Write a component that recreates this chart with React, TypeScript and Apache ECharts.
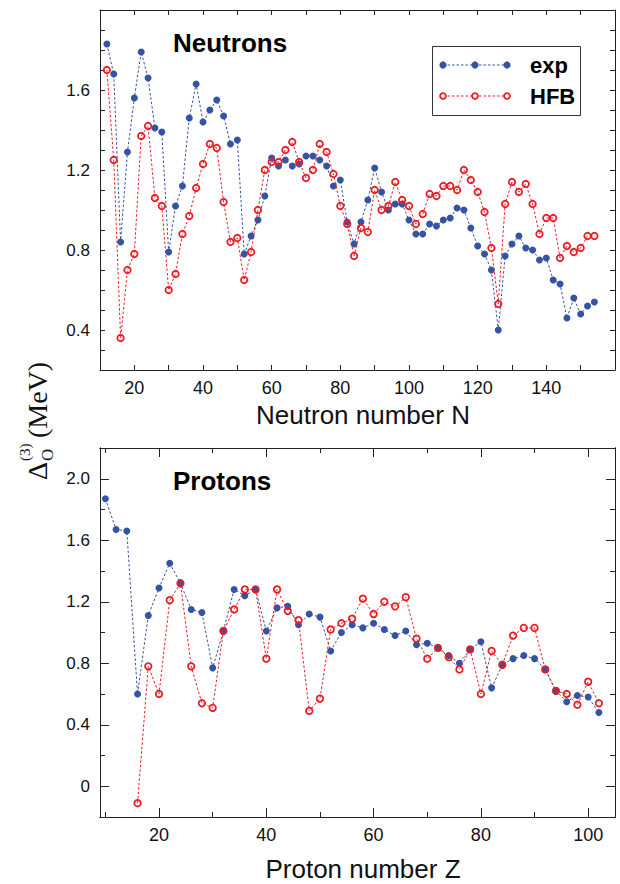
import React, { useEffect, useRef } from 'react';
import * as echarts from 'echarts';

// ---------- Data ----------
const neutronN = [12, 14, 16, 18, 20, 22, 24, 26, 28, 30, 32, 34, 36, 38, 40, 42, 44, 46, 48, 50, 52, 54, 56, 58, 60, 62, 64, 66, 68, 70, 72, 74, 76, 78, 80, 82, 84, 86, 88, 90, 92, 94, 96, 98, 100, 102, 104, 106, 108, 110, 112, 114, 116, 118, 120, 122, 124, 126, 128, 130, 132, 134, 136, 138, 140, 142, 144, 146, 148, 150, 152, 154];
const neutronExp = [1.83, 1.68, 0.84, 1.29, 1.56, 1.79, 1.66, 1.41, 1.39, 0.79, 1.02, 1.12, 1.46, 1.63, 1.44, 1.50, 1.55, 1.47, 1.33, 1.35, 0.78, 0.87, 0.95, 1.07, 1.26, 1.22, 1.25, 1.22, 1.23, 1.27, 1.27, 1.25, 1.22, 1.12, 1.15, 0.94, 0.83, 0.94, 1.05, 1.21, 1.09, 1.00, 1.03, 1.03, 0.95, 0.88, 0.88, 0.93, 0.92, 0.95, 0.96, 1.01, 1.00, 0.91, 0.82, 0.78, 0.70, 0.40, 0.77, 0.83, 0.87, 0.81, 0.80, 0.75, 0.76, 0.65, 0.63, 0.46, 0.56, 0.48, 0.52, 0.54];
const neutronHFB = [1.70, 1.25, 0.36, 0.70, 0.78, 1.37, 1.42, 1.06, 1.02, 0.60, 0.68, 0.88, 0.97, 1.11, 1.23, 1.33, 1.31, 1.04, 0.84, 0.86, 0.65, 0.79, 1.00, 1.20, 1.24, 1.24, 1.30, 1.34, 1.24, 1.16, 1.20, 1.33, 1.29, 1.18, 1.02, 0.93, 0.77, 0.91, 0.89, 1.10, 1.00, 1.02, 1.14, 1.05, 1.02, 0.93, 0.98, 1.08, 1.07, 1.12, 1.12, 1.10, 1.20, 1.15, 1.09, 0.99, 0.81, 0.53, 1.03, 1.14, 1.09, 1.13, 1.03, 0.88, 0.96, 0.96, 0.76, 0.82, 0.79, 0.81, 0.87, 0.87];

const protonZExp = [10, 12, 14, 16, 18, 20, 22, 24, 26, 28, 30, 32, 34, 36, 38, 40, 42, 44, 46, 48, 50, 52, 54, 56, 58, 60, 62, 64, 66, 68, 70, 72, 74, 76, 78, 80, 82, 84, 86, 88, 90, 92, 94, 96, 98, 100, 102];
const protonExp = [1.87, 1.67, 1.66, 0.60, 1.11, 1.29, 1.45, 1.32, 1.15, 1.13, 0.77, 1.01, 1.28, 1.24, 1.28, 1.01, 1.16, 1.17, 1.05, 1.12, 1.10, 0.88, 1.00, 1.05, 1.03, 1.06, 1.02, 0.98, 1.01, 0.92, 0.93, 0.90, 0.85, 0.80, 0.89, 0.94, 0.64, 0.79, 0.83, 0.85, 0.83, 0.76, 0.62, 0.55, 0.59, 0.58, 0.48];
const protonZHFB = [16, 18, 20, 22, 24, 26, 28, 30, 32, 34, 36, 38, 40, 42, 44, 46, 48, 50, 52, 54, 56, 58, 60, 62, 64, 66, 68, 70, 72, 74, 76, 78, 80, 82, 84, 86, 88, 90, 92, 94, 96, 98, 100, 102];
const protonHFB = [-0.11, 0.78, 0.60, 1.21, 1.32, 0.78, 0.54, 0.51, 1.01, 1.15, 1.28, 1.28, 0.83, 1.28, 1.14, 1.08, 0.49, 0.57, 1.02, 1.06, 1.09, 1.22, 1.12, 1.20, 1.17, 1.23, 0.96, 0.83, 0.90, 0.84, 0.76, 0.89, 0.60, 0.88, 0.79, 0.98, 1.03, 1.03, 0.76, 0.62, 0.60, 0.53, 0.68, 0.54];

// ---------- Ticks / labels ----------
const topXTicks = [10, 20, 30, 40, 50, 60, 70, 80, 90, 100, 110, 120, 130, 140, 150, 160];
const topXLabels = [20, 40, 60, 80, 100, 120, 140];
const topYTicks = [0.2, 0.3, 0.4, 0.5, 0.6, 0.7, 0.8, 0.9, 1.0, 1.1, 1.2, 1.3, 1.4, 1.5, 1.6, 1.7, 1.8, 1.9, 2.0];
const topYLabels = [0.4, 0.8, 1.2, 1.6];
const botXMajor = [20, 40, 60, 80, 100];
const botXMinor = [10, 30, 50, 70, 90];
const botYMajor = [0, 0.4, 0.8, 1.2, 1.6, 2.0];
const botYMinor = [0.2, 0.6, 1.0, 1.4, 1.8];

const BLUE = '#3553a3';
const RED = '#ec1c24';
const AXIS = '#222';
const SANS = 'Liberation Sans, Arial, Helvetica, sans-serif';
const SERIF = 'Liberation Serif, Times New Roman, serif';

function App() {
  const ref = useRef<HTMLDivElement>(null);

  useEffect(() => {
    if (!ref.current) return;
    const chart = echarts.init(ref.current, null, { renderer: 'svg' });

    const line = { show: true, onZero: false, lineStyle: { color: AXIS, width: 1 } };
    const xAx = (grid: number, pos: string, min: number, max: number, ticks: number[], len: number, labels: number[] | null) => ({
      type: 'value',
      gridIndex: grid,
      position: pos,
      min,
      max,
      axisLine: line,
      axisTick: { show: true, inside: true, length: len, customValues: ticks, lineStyle: { color: AXIS, width: 1 } },
      axisLabel: labels
        ? { show: true, customValues: labels, fontSize: 18, color: '#111', fontFamily: SANS, margin: 9 }
        : { show: false },
      splitLine: { show: false },
    });
    const yAx = (grid: number, pos: string, min: number, max: number, ticks: number[], len: number, labels: number[] | null) => ({
      type: 'value',
      gridIndex: grid,
      position: pos,
      min,
      max,
      axisLine: line,
      axisTick: { show: true, inside: true, length: len, customValues: ticks, lineStyle: { color: AXIS, width: 1 } },
      axisLabel: labels
        ? {
            show: true,
            customValues: labels,
            fontSize: 17,
            color: '#111',
            fontFamily: SANS,
            margin: 10,
            formatter: (v: number) => (Math.abs(v) < 1e-9 ? '0' : v.toFixed(1)),
          }
        : { show: false },
      splitLine: { show: false },
    });

    const expStyle = {
      type: 'line',
      symbol: 'circle',
      symbolSize: 7,
      itemStyle: { color: BLUE },
      lineStyle: { color: BLUE, width: 1, type: [2.5, 2] },
      z: 2,
    };
    const hfbStyle = {
      type: 'line',
      symbol: 'circle',
      symbolSize: 6.5,
      itemStyle: { color: 'rgba(255,255,255,0)', borderColor: RED, borderWidth: 1.8 },
      lineStyle: { color: RED, width: 1, type: [2.5, 2] },
      z: 3,
    };

    const legendY1 = 65;
    const legendY2 = 96;
    const lx = [443, 475, 507];

    chart.setOption({
      animation: false,
      grid: [
        { left: 100, top: 10, width: 515, height: 360 },
        { left: 100, top: 448, width: 515, height: 369 },
      ],
      xAxis: [
        xAx(0, 'bottom', 10, 160, topXTicks, 5, topXLabels),
        xAx(0, 'top', 10, 160, topXTicks, 5, null),
        xAx(1, 'bottom', 9, 105, botXMajor, 9, botXMajor),
        xAx(1, 'bottom', 9, 105, botXMinor, 5, null),
        xAx(1, 'top', 9, 105, botXMajor, 9, null),
        xAx(1, 'top', 9, 105, botXMinor, 5, null),
      ],
      yAxis: [
        yAx(0, 'left', 0.2, 2.0, topYTicks, 5, topYLabels),
        yAx(0, 'right', 0.2, 2.0, topYTicks, 5, null),
        yAx(1, 'left', -0.2, 2.2, botYMajor, 9, botYMajor),
        yAx(1, 'left', -0.2, 2.2, botYMinor, 5, null),
        yAx(1, 'right', -0.2, 2.2, botYMajor, 9, null),
        yAx(1, 'right', -0.2, 2.2, botYMinor, 5, null),
      ],
      series: [
        { ...expStyle, name: 'exp', xAxisIndex: 0, yAxisIndex: 0, data: neutronN.map((n, i) => [n, neutronExp[i]]) },
        { ...hfbStyle, name: 'HFB', xAxisIndex: 0, yAxisIndex: 0, data: neutronN.map((n, i) => [n, neutronHFB[i]]) },
        { ...expStyle, name: 'exp', xAxisIndex: 2, yAxisIndex: 2, data: protonZExp.map((z, i) => [z, protonExp[i]]) },
        { ...hfbStyle, name: 'HFB', xAxisIndex: 2, yAxisIndex: 2, data: protonZHFB.map((z, i) => [z, protonHFB[i]]) },
      ],
      graphic: [
        { type: 'text', left: 173, top: 30, style: { text: 'Neutrons', font: 'bold 26px ' + SANS, fill: '#000' } },
        { type: 'text', left: 173, top: 468, style: { text: 'Protons', font: 'bold 26px ' + SANS, fill: '#000' } },
        { type: 'text', x: 363, y: 415, style: { text: 'Neutron number N', font: '26px ' + SANS, fill: '#111', align: 'center', verticalAlign: 'middle' } },
        { type: 'text', x: 363, y: 869, style: { text: 'Proton number Z', font: '26px ' + SANS, fill: '#111', align: 'center', verticalAlign: 'middle' } },
        // legend box
        { type: 'rect', shape: { x: 432.5, y: 46.5, width: 148, height: 69 }, style: { fill: '#fff', stroke: '#333', lineWidth: 1 }, z: 10 },
        { type: 'line', shape: { x1: lx[0], y1: legendY1, x2: lx[2], y2: legendY1 }, style: { stroke: BLUE, lineWidth: 1, lineDash: [2.5, 2] }, z: 11 },
        ...lx.map((x) => ({ type: 'circle', shape: { cx: x, cy: legendY1, r: 3.6 }, style: { fill: BLUE }, z: 12 })),
        { type: 'line', shape: { x1: lx[0], y1: legendY2, x2: lx[2], y2: legendY2 }, style: { stroke: RED, lineWidth: 1, lineDash: [2.5, 2] }, z: 11 },
        ...lx.map((x) => ({ type: 'circle', shape: { cx: x, cy: legendY2, r: 2.9 }, style: { fill: '#fff', stroke: RED, lineWidth: 1.8 }, z: 12 })),
        { type: 'text', x: 530, y: legendY1, style: { text: 'exp', font: 'bold 22px ' + SANS, fill: '#000', verticalAlign: 'middle' }, z: 12 },
        { type: 'text', x: 530, y: legendY2, style: { text: 'HFB', font: 'bold 22px ' + SANS, fill: '#000', verticalAlign: 'middle' }, z: 12 },
        // y-axis title: Δ_O^(3) (MeV), rotated
        {
          type: 'group',
          x: 37,
          y: 420,
          rotation: Math.PI / 2,
          children: [
            { type: 'text', x: -60, y: 0, style: { text: 'Δ', font: '28px ' + SERIF, fill: '#111', verticalAlign: 'middle' } },
            { type: 'text', x: -41, y: -12, style: { text: '(3)', font: '15px ' + SERIF, fill: '#111', verticalAlign: 'middle' } },
            { type: 'text', x: -41, y: 10, style: { text: 'O', font: '17px ' + SERIF, fill: '#111', verticalAlign: 'middle' } },
            { type: 'text', x: -18, y: 0, style: { text: '(MeV)', font: '28px ' + SERIF, fill: '#111', verticalAlign: 'middle' } },
          ],
        },
      ],
    });

    return () => chart.dispose();
  }, []);

  return <div ref={ref} style={{ position: 'fixed', left: 0, top: 0, width: 620, height: 884, background: '#fff' }} />;
}

export default App;
